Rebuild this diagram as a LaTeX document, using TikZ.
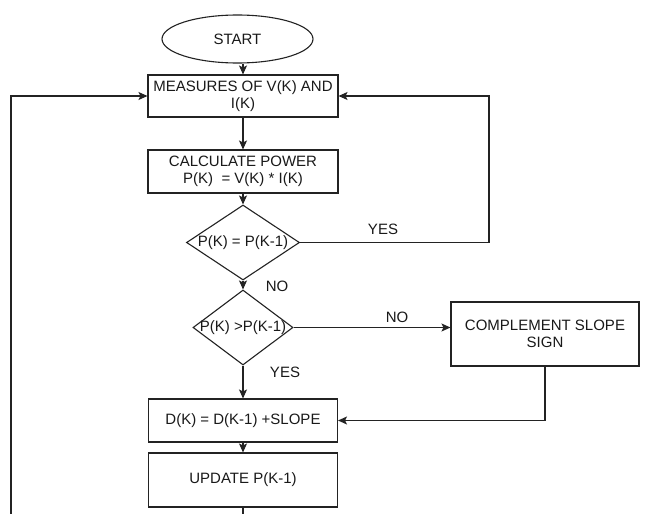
\documentclass[tikz,border=0pt]{standalone}
\usepackage{fontspec}
\setmainfont{Liberation Sans}
\usetikzlibrary{arrows.meta, shapes.geometric}
\definecolor{flowLine}{RGB}{35,35,35}
\definecolor{flowText}{RGB}{25,25,25}

\begin{document}
\begin{tikzpicture}[x=1pt, y=-1pt,
  every node/.style={font=\fontsize{15}{16.5}\selectfont, text=flowText},
  flowBox/.style={draw=flowLine, line width=1.1pt, fill=white, align=center, inner sep=2pt},
  flowDecide/.style={draw=flowLine, line width=1.1pt, diamond, inner sep=0pt, fill=white},
  flowArrow/.style={-{Stealth[length=9pt, width=8pt, inset=2pt]}, draw=flowLine, line width=1.1pt},
  flowLink/.style={draw=flowLine, line width=1.1pt}]
  \useasboundingbox[fill=white] (0,0) rectangle (672,514);

  % blocks
  \node[flowBox, ellipse, minimum width=151pt, minimum height=48pt] (start) at (237.5,39) {START};
  \node[flowBox, minimum width=190pt, minimum height=42pt] (measures) at (243,96)
    {MEASURES OF V(K) AND\\I(K)};
  \node[flowBox, minimum width=190pt, minimum height=43pt] (power) at (243,171.5)
    {CALCULATE POWER\\P(K)~ = V(K) * I(K)};
  \node[flowDecide, minimum width=113pt, minimum height=75pt] (same) at (243,242.5)
    {\makebox[0pt]{P(K) = P(K-1)}};
  \node[flowDecide, minimum width=100pt, minimum height=75pt] (greater) at (243,327.5)
    {\makebox[0pt]{P(K) >P(K-1)}};
  \node[flowBox, minimum width=188pt, minimum height=64pt] (complement) at (545,334)
    {COMPLEMENT SLOPE\\SIGN};
  \node[flowBox, minimum width=189pt, minimum height=43pt] (duty) at (243,420.5)
    {D(K) = D(K-1) +SLOPE};
  \node[flowBox, minimum width=189pt, minimum height=54pt] (update) at (243,480)
    {UPDATE P(K-1)};

  % labels
  \node (yesSame) at (383,229) {YES};
  \node (noSame) at (277,286) {NO};
  \node (noGreater) at (397,317) {NO};
  \node (yesGreater) at (285,372) {YES};

  \coordinate (rightTop) at (489,96);
  \coordinate (leftEnd) at (11,514);
  \coordinate (updateEnd) at (243,514);

  % connectors
  \draw[flowArrow] (start.south -| measures.north) -- (measures.north);
  \draw[flowArrow] (measures) -- (power);
  \draw[flowArrow] (power) -- (same);
  \draw[flowArrow] (same) -- (greater);
  \draw[flowArrow] (greater) -- (duty);
  \draw[flowArrow] (duty) -- (update);
  \draw[flowArrow] (same.east) -| (rightTop) -- (measures.east);
  \draw[flowArrow] (greater.east) -- (greater.east -| complement.west);
  \draw[flowArrow] (complement.south) |- (duty.east);
  \draw[flowLink] (update.south) -- (updateEnd);
  \draw[flowArrow] (leftEnd) |- (measures.west);
\end{tikzpicture}
\end{document}
